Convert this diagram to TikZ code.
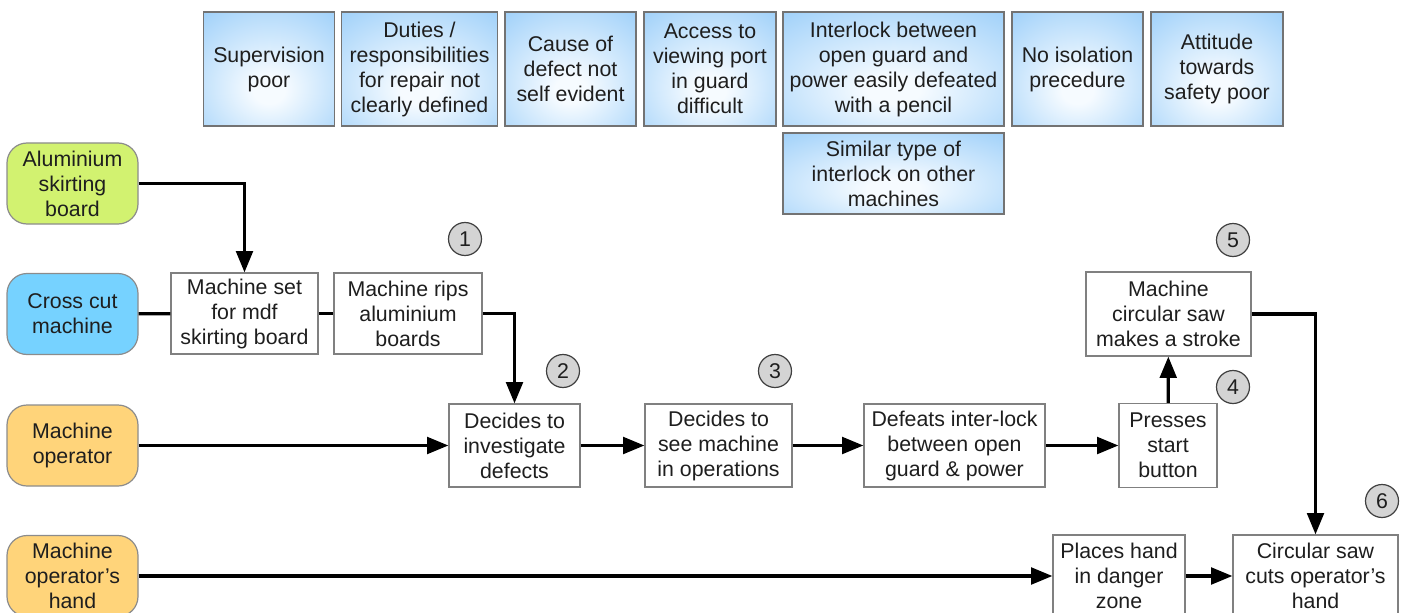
\documentclass[tikz,border=0pt]{standalone}
\usepackage{fontspec}
\setmainfont{Liberation Sans}
\usetikzlibrary{arrows.meta}
\definecolor{causeedge}{RGB}{138,198,248}
\definecolor{causemid}{RGB}{246,251,255}
\definecolor{limefill}{RGB}{210,242,112}
\definecolor{cyanfill}{RGB}{118,210,255}
\definecolor{orangefill}{RGB}{255,212,122}
\definecolor{txt}{RGB}{30,30,30}
\pgfdeclareradialshading{causeshade}{\pgfpoint{0bp}{-10bp}}{color(0bp)=(causemid); color(6bp)=(causemid); color(48bp)=(causeedge); color(80bp)=(causeedge)}
\begin{document}
\begin{tikzpicture}[x=0.75pt,y=-0.75pt,
  every node/.style={font=\fontsize{16}{18.75}\selectfont, text=txt, align=center, inner sep=0pt},
  wh/.style 2 args={minimum width=#1*0.75pt, minimum height=#2*0.75pt},
  cause/.style={draw=black!55, line width=0.9pt, shading=causeshade},
  actor/.style={draw=black!45, line width=0.9pt, rounded corners=15pt, wh={131}{81}},
  proc/.style={draw=black!50, line width=0.9pt, fill=white},
  num/.style={circle, draw=black!75, fill=black!17, line width=0.9pt, minimum size=33*0.75pt},
  conn/.style={line width=2.4pt, black},
  arr/.style={conn, -{Triangle[length=16pt,width=12.5pt]}}]
\useasboundingbox (0,0) rectangle (1402,613);
\clip (0,0) rectangle (1402,613);

% cause boxes
\node[cause, wh={131}{114}] (k1) at (269,69) {Supervision\\poor};
\node[cause, wh={156}{114}] (k2) at (419.5,69) {Duties /\\responsibilities\\for repair not\\clearly defined};
\node[cause, wh={131}{114}] (k3) at (570.5,69) {Cause of\\defect not\\self evident};
\node[cause, wh={132}{114}] (k4) at (710,69) {Access to\\viewing port\\in guard\\difficult};
\node[cause, wh={221}{114}] (k5) at (893.5,69) {Interlock between\\open guard and\\power easily defeated\\with a pencil};
\node[cause, wh={131}{114}] (k6) at (1077.5,69) {No isolation\\precedure};
\node[cause, wh={132}{114}] (k7) at (1217,69) {Attitude\\towards\\safety poor};
\node[cause, wh={221}{81}] (k8) at (893.5,173.5) {Similar type of\\interlock on other\\machines};

% actors
\node[actor, fill=limefill] (alu) at (72.5,183.5) {Aluminium\\skirting\\board};
\node[actor, fill=cyanfill] (cc) at (72.5,314) {Cross cut\\machine};
\node[actor, fill=orangefill] (mo) at (72.5,445.5) {Machine\\operator};
\node[actor, fill=orangefill] (hand) at (72.5,576) {Machine\\operator’s\\hand};

% process steps
\node[proc, wh={147}{81}] (ms) at (244.5,313.5) {Machine set\\for mdf\\skirting board};
\node[proc, wh={148}{81}] (mr) at (408,313.5) {Machine rips\\aluminium\\boards};
\node[proc, wh={131}{83}] (di) at (514.5,445.5) {Decides to\\investigate\\defects};
\node[proc, wh={147}{83}] (ds) at (718.5,445.5) {Decides to\\see machine\\in operations};
\node[proc, wh={181}{83}] (dl) at (954.5,445.5) {Defeats inter-lock\\between open\\guard \& power};
\node[proc, wh={98}{84}] (pb) at (1168,445.5) {Presses\\start\\button};
\node[proc, wh={165}{84}] (cs) at (1168.5,314) {Machine\\circular saw\\makes a stroke};
\node[proc, wh={132}{82}] (ph) at (1119,576) {Places hand\\in danger\\zone};
\node[proc, wh={165}{82}] (cut) at (1315.5,576) {Circular saw\\cuts operator’s\\hand};

% numbers
\node[num] (c1) at (465,239) {1};
\node[num] (c2) at (563,371) {2};
\node[num] (c3) at (775,371) {3};
\node[num] (c4) at (1233,387) {4};
\node[num] (c5) at (1233,240) {5};
\node[num] (c6) at (1382,501) {6};

% connectors
\draw[arr] (alu.east) -| (ms.north);
\draw[conn] (cc) -- (ms);
\draw[conn] (ms) -- (mr);
\draw[arr] (mr.east) -| (di.north);
\draw[arr] (mo) -- (di);
\draw[arr] (di) -- (ds);
\draw[arr] (ds) -- (dl);
\draw[arr] (dl) -- (pb);
\draw[arr] (pb) -- (cs);
\draw[arr] (cs.east) -| (cut.north);
\draw[arr] (hand) -- (ph);
\draw[arr] (ph) -- (cut);
\end{tikzpicture}
\end{document}
